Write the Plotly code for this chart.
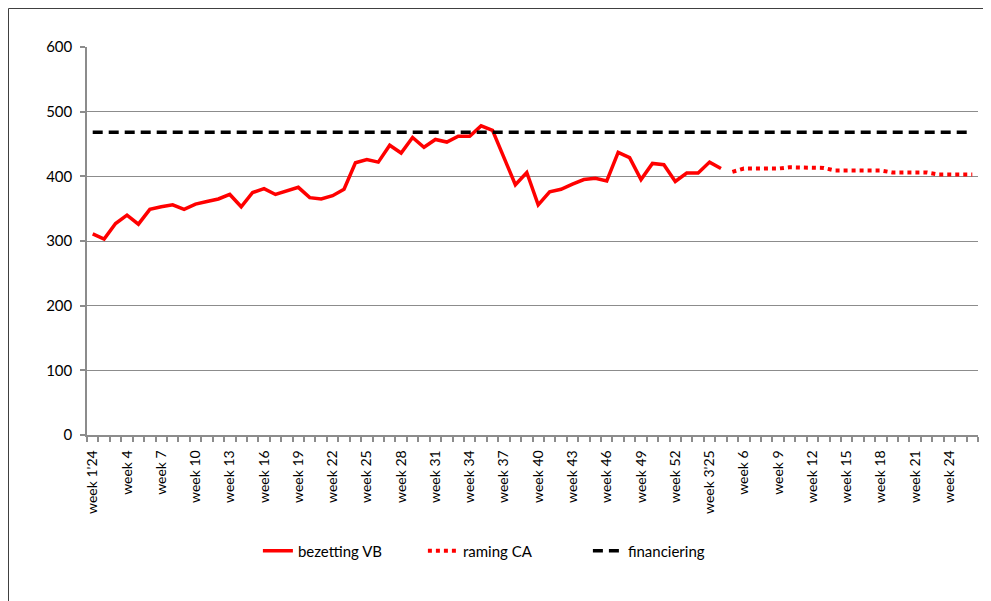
import plotly.graph_objects as go

# Category positions: 52 weeks of 2024 + 26 weeks of 2025 = 78 categories
n_categories = 78
tick_labels = ["week 1'24", "week 4", "week 7", "week 10", "week 13", "week 16",
               "week 19", "week 22", "week 25", "week 28", "week 31", "week 34",
               "week 37", "week 40", "week 43", "week 46", "week 49", "week 52",
               "week 3'25", "week 6", "week 9", "week 12", "week 15", "week 18",
               "week 21", "week 24"]
tick_positions = [0, 3, 6, 9, 12, 15, 18, 21, 24, 27, 30, 33, 36, 39, 42, 45, 48, 51,
                  54, 57, 60, 63, 66, 69, 72, 75]

# bezetting VB (week 1'24 .. week 4'25)
bezetting_vb = [311, 303, 327, 340, 326, 349, 353, 356, 349, 357,
                361, 365, 372, 353, 375, 381, 372, 377, 383, 367,
                365, 370, 380, 421, 426, 422, 448, 436, 460, 445,
                457, 453, 462, 462, 478, 471, 429, 387, 406, 356,
                376, 380, 388, 395, 397, 393, 437, 429, 395, 420,
                418, 392, 405, 405, 422, 412]
bezetting_start = 0

# raming CA (week 5'25 .. week 26'25)
raming_ca = [407, 412, 412, 412, 412, 414, 414, 414, 413, 409,
             409, 409, 409, 409, 406, 406, 406, 406, 403, 403,
             403, 403]
raming_start = 56

# financiering (constant level)
financiering = [468] * n_categories

x_bez = list(range(bezetting_start, bezetting_start + len(bezetting_vb)))
x_ram = list(range(raming_start, raming_start + len(raming_ca)))
x_fin = list(range(n_categories))

grid = "#8c8c8c"
font_family = "Lato, 'Open Sans', sans-serif"

fig = go.Figure()
fig.add_trace(go.Scatter(x=x_bez, y=bezetting_vb, mode="lines", name="bezetting VB",
                         line=dict(color="#ff0000", width=3.5)))
fig.add_trace(go.Scatter(x=x_ram, y=raming_ca, mode="lines", name="raming CA",
                         line=dict(color="#ff0000", width=4, dash="4px,4px")))
fig.add_trace(go.Scatter(x=x_fin, y=financiering, mode="lines", name="financiering",
                         line=dict(color="#000000", width=3.5, dash="10px,6px")))

# page has an 8px body margin, so the figure is 8px smaller and offset
W, H = 983, 593
L, R, T, B = 79, 13, 39, 166
pw, ph = W - L - R, H - T - B

def px_x(px):
    return (px - L) / pw

def px_y(py):
    return (H - B - py) / ph

fig.update_layout(
    width=W, height=H,
    margin=dict(l=L, r=R, t=T, b=B),
    plot_bgcolor="white", paper_bgcolor="white",
    font=dict(family=font_family, size=15, color="#000000"),
    showlegend=True,
    legend=dict(orientation="h", xref="container", yref="container",
                x=0.506, y=0.0843, xanchor="center", yanchor="middle",
                font=dict(size=15), entrywidth=120, entrywidthmode="pixels"),
    xaxis=dict(range=[-0.5, n_categories - 0.5], tickmode="array",
               tickvals=tick_positions, ticktext=tick_labels, tickangle=-90,
               tickfont=dict(size=14),
               ticks="outside", ticklen=8, tickcolor="rgba(0,0,0,0)",
               showline=True, linecolor=grid, linewidth=1.5, showgrid=False,
               zeroline=False,
               minor=dict(tickmode="array",
                          tickvals=[i - 0.5 for i in range(n_categories + 1)],
                          ticks="outside", ticklen=5, tickcolor=grid, tickwidth=1.5,
                          showgrid=False)),
    yaxis=dict(range=[0, 600], dtick=100, tick0=0, showgrid=True, gridcolor=grid,
               gridwidth=1.2, showline=True, linecolor=grid, linewidth=1.5,
               tickfont=dict(size=15),
               ticks="outside", ticklen=5, tickcolor=grid, tickwidth=1.5,
               zeroline=False, ticklabelstandoff=5),
    shapes=[
        dict(type="line", xref="paper", yref="paper", x0=px_x(0.5), x1=px_x(W + 5),
             y0=px_y(0.5), y1=px_y(0.5), line=dict(color="#404040", width=1)),
        dict(type="line", xref="paper", yref="paper", x0=px_x(0.5), x1=px_x(0.5),
             y0=px_y(0.5), y1=px_y(H + 5), line=dict(color="#404040", width=1)),
    ],
)

fig.write_html("out.html")
